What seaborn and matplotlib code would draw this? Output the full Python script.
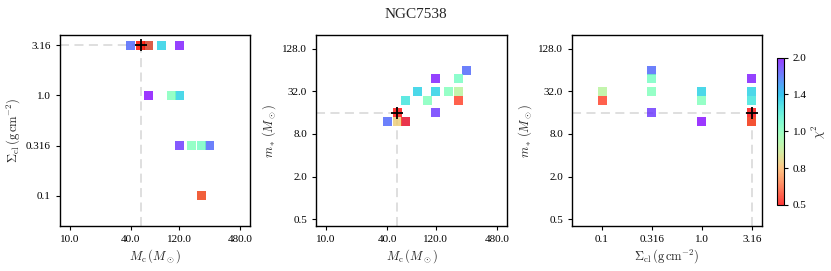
import numpy as np
import pandas as pd
import matplotlib
matplotlib.use("Agg")
import matplotlib.pyplot as plt
import seaborn as sns
from matplotlib.colors import LogNorm
from matplotlib.cm import ScalarMappable
from matplotlib.ticker import NullLocator, FixedLocator, FixedFormatter

# ---- data ----
mc = [40, 50, 50, 60, 60, 80, 120, 60, 100, 120, 120, 160, 200, 240, 200, 200]
sigma = [3.16, 3.16, 3.16, 3.16, 3.16, 3.16, 3.16, 1.0, 1.0, 1.0,
         0.316, 0.316, 0.316, 0.316, 0.1, 0.1]
mstar = [12, 16, 12, 12, 24, 32, 48, 12, 24, 32, 16, 32, 48, 64, 24, 32]
chi2 = [1.7, 0.5, 0.75, 0.55, 1.23, 1.32, 1.95, 2.0, 1.02, 1.32,
        1.85, 1.02, 1.05, 1.7, 0.55, 0.87]
best = {"mc": 50, "sigma": 3.16, "mstar": 16}

title = "NGC7538"
mc_ticks = [10, 40, 120, 480]
mc_ticklabels = ["10.0", "40.0", "120.0", "480.0"]
sig_ticks = [0.1, 0.316, 1.0, 3.16]
sig_ticklabels = ["0.1", "0.316", "1.0", "3.16"]
ms_ticks = [0.5, 2, 8, 32, 128]
ms_ticklabels = ["0.5", "2.0", "8.0", "32.0", "128.0"]
cb_ticks = [0.5, 0.7071, 1.0, 1.4142, 2.0]
cb_ticklabels = ["0.5", "0.8", "1.0", "1.4", "2.0"]

df = pd.DataFrame({"mc": mc, "sigma": sigma, "mstar": mstar, "chi2": chi2})
df = df.sort_values("chi2", ascending=False, kind="stable")

sns.set_style("ticks")
plt.rcParams["font.family"] = ["Liberation Serif", "DejaVu Serif"]
plt.rcParams["mathtext.fontset"] = "cm"
plt.rcParams["axes.linewidth"] = 1.0
plt.rcParams["axes.edgecolor"] = "black"
plt.rcParams["xtick.color"] = "black"
plt.rcParams["ytick.color"] = "black"

W, H = 831, 271
fig = plt.figure(figsize=(W / 100, H / 100), dpi=100)

def rect(l, r, t, b):
    return [l / W, (H - b) / H, (r - l) / W, (b - t) / H]

ax1 = fig.add_axes(rect(60, 250, 35, 226))
ax2 = fig.add_axes(rect(316, 507, 35, 226))
ax3 = fig.add_axes(rect(572, 762, 35, 226))
cax = fig.add_axes(rect(777, 784, 57.5, 205))

norm = LogNorm(vmin=0.5, vmax=2.0)
cmap = "rainbow_r"
mc_lim = (8, 600)
sig_lim = (0.05, 4.0)
ms_lim = (0.4, 200)

panels = [
    (ax1, "mc", "sigma", mc_lim, sig_lim, mc_ticks, mc_ticklabels, sig_ticks, sig_ticklabels,
     r"$M_{\rm c}\,(M_\odot)$", r"$\Sigma_{\rm cl}\,({\rm g\,cm^{-2}})$"),
    (ax2, "mc", "mstar", mc_lim, ms_lim, mc_ticks, mc_ticklabels, ms_ticks, ms_ticklabels,
     r"$M_{\rm c}\,(M_\odot)$", r"$m_*\,(M_\odot)$"),
    (ax3, "sigma", "mstar", sig_lim, ms_lim, sig_ticks, sig_ticklabels, ms_ticks, ms_ticklabels,
     r"$\Sigma_{\rm cl}\,({\rm g\,cm^{-2}})$", r"$m_*\,(M_\odot)$"),
]

for ax, xk, yk, xl, yl, xt, xtl, yt, ytl, xlab, ylab in panels:
    ax.set_xscale("log")
    ax.set_yscale("log")
    bx, by = best[xk], best[yk]
    ax.plot([xl[0], bx], [by, by], ls=(0, (5, 3)), color="#dcdcdc", lw=1.3, zorder=1)
    ax.plot([bx, bx], [yl[0], by], ls=(0, (5, 3)), color="#dcdcdc", lw=1.3, zorder=1)
    sns.scatterplot(data=df, x=xk, y=yk, hue="chi2", hue_norm=norm, palette=cmap,
                    marker="s", s=42, alpha=0.78, linewidth=0, legend=False, ax=ax,
                    zorder=2)
    ax.scatter([bx], [by], marker="+", s=80, color="black", linewidths=1.3, zorder=3)
    ax.set_xlim(*xl)
    ax.set_ylim(*yl)
    ax.xaxis.set_major_locator(FixedLocator(xt))
    ax.xaxis.set_major_formatter(FixedFormatter(xtl))
    ax.yaxis.set_major_locator(FixedLocator(yt))
    ax.yaxis.set_major_formatter(FixedFormatter(ytl))
    ax.xaxis.set_minor_locator(NullLocator())
    ax.yaxis.set_minor_locator(NullLocator())
    ax.tick_params(labelsize=8, length=3, width=0.8, direction="out")
    ax.set_xlabel(xlab, fontsize=9, labelpad=2)
    ax.set_ylabel(ylab, fontsize=9, labelpad=3)

sm = ScalarMappable(norm=norm, cmap=cmap)
sm.set_array([])
cb = fig.colorbar(sm, cax=cax, alpha=0.78)
cb.outline.set_linewidth(0.8)
cax.yaxis.set_minor_locator(NullLocator())
cb.set_ticks(cb_ticks)
cb.set_ticklabels(cb_ticklabels)
cax.tick_params(labelsize=8, length=3, width=0.8)
cb.set_label(r"$\chi^2$", fontsize=9, labelpad=2)

fig.text(0.5, 0.945, title, ha="center", va="center", fontsize=11)

fig.savefig("out.png", dpi=100)
